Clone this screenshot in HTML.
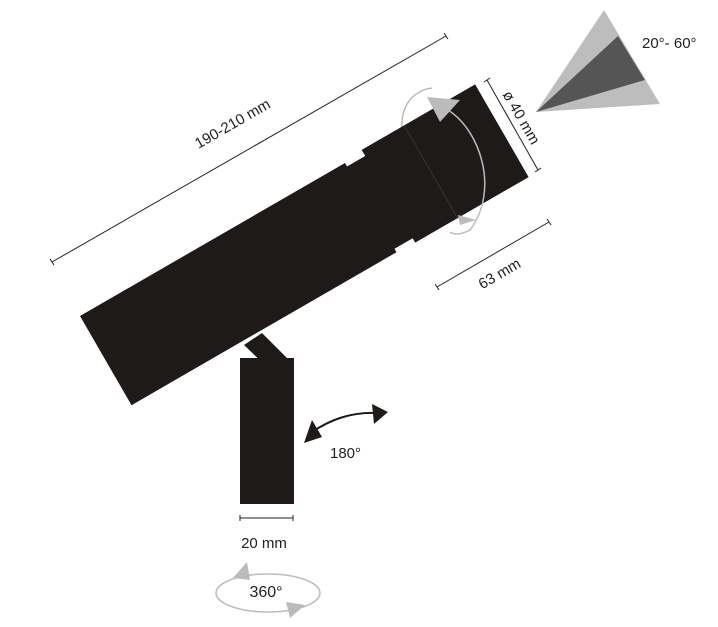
<!DOCTYPE html>
<html><head><style>html,body{margin:0;padding:0;background:#fff;}svg{display:block}</style></head>
<body>
<svg width="718" height="627" viewBox="0 0 718 627" xmlns="http://www.w3.org/2000/svg" font-family="Liberation Sans, sans-serif">
<rect width="718" height="627" fill="#fff"/>
<!-- cone -->
<polygon points="604,10 536,112 660,104" fill="#bdbdbd"/>
<polygon points="536,112 618,36 645,80" fill="#555"/>
<text x="642" y="48" font-size="15" fill="#222">20°- 60°</text>
<!-- dimension 190-210 -->
<line x1="52" y1="262" x2="446" y2="36" stroke="#222" stroke-width="1"/>
<line x1="50" y1="259" x2="54" y2="265" stroke="#222"/>
<line x1="444" y1="33" x2="448" y2="39" stroke="#222"/>
<text x="0" y="0" font-size="15" fill="#222" text-anchor="middle" transform="translate(235,128) rotate(-30)">190-210 mm</text>
<!-- head rotation arrow back part -->
<path d="M432,88 C400,92 395,130 410,150" fill="none" stroke="#bbb" stroke-width="1.5"/>
<!-- body -->
<g transform="translate(80,316) rotate(-30)">
<rect x="0" y="0" width="306" height="103" fill="#1e1a1a"/>
<rect x="305" y="4" width="24" height="95" fill="#1e1a1a"/>
<rect x="327" y="-3" width="50" height="107" fill="#1e1a1a"/>
<rect x="376" y="-3" width="82" height="107" fill="#1e1a1a"/>
<line x1="376" y1="-3" x2="376" y2="104" stroke="#333" stroke-width="1"/>
</g>
<!-- ø 40 dimension -->
<line x1="487" y1="80" x2="538" y2="170" stroke="#222"/>
<line x1="484" y1="82" x2="490" y2="78" stroke="#222"/>
<line x1="535" y1="172" x2="541" y2="168" stroke="#222"/>
<text x="0" y="0" font-size="15" fill="#222" text-anchor="middle" transform="translate(517,120) rotate(60)">ø 40 mm</text>
<!-- head rotation arrow front -->
<path d="M448,110 C480,130 500,190 470,230 C460,235 455,235 450,232" fill="none" stroke="#bbb" stroke-width="1.5"/>
<polygon points="427,97 460,100 440,122" fill="#bbb"/>
<polygon points="458,215 476,220 460,225" fill="#bbb"/>
<!-- 63 mm -->
<line x1="437" y1="287" x2="549" y2="222" stroke="#222"/>
<line x1="435" y1="284" x2="439" y2="290" stroke="#222"/>
<line x1="547" y1="219" x2="551" y2="225" stroke="#222"/>
<text x="0" y="0" font-size="15" fill="#222" text-anchor="middle" transform="translate(502,278) rotate(-30)">63 mm</text>
<!-- stem & post -->
<polygon points="244,345 262,333 287,358 268,368" fill="#1e1a1a"/>
<rect x="240" y="358" width="54" height="146" fill="#1e1a1a"/>
<!-- 180 arrow -->
<path d="M312,432 C330,420 350,412 377,413" fill="none" stroke="#1e1a1a" stroke-width="2"/>
<polygon points="304,443 312,420 322,437" fill="#1e1a1a"/>
<polygon points="388,412 372,404 374,424" fill="#1e1a1a"/>
<text x="330" y="458" font-size="15" fill="#222">180°</text>
<!-- 20 mm -->
<line x1="240" y1="518" x2="293" y2="518" stroke="#222"/>
<line x1="240" y1="515" x2="240" y2="521" stroke="#222"/>
<line x1="293" y1="515" x2="293" y2="521" stroke="#222"/>
<text x="264" y="548" font-size="15" fill="#222" text-anchor="middle">20 mm</text>
<!-- 360 -->
<ellipse cx="268" cy="593" rx="52" ry="19" fill="none" stroke="#bbb" stroke-width="1.5"/>
<polygon points="233,578 247,562 250,580" fill="#bbb"/>
<polygon points="286,602 305,605 290,618" fill="#bbb"/>
<text x="266" y="597" font-size="16" fill="#222" text-anchor="middle">360°</text>
</svg>
</body></html>
